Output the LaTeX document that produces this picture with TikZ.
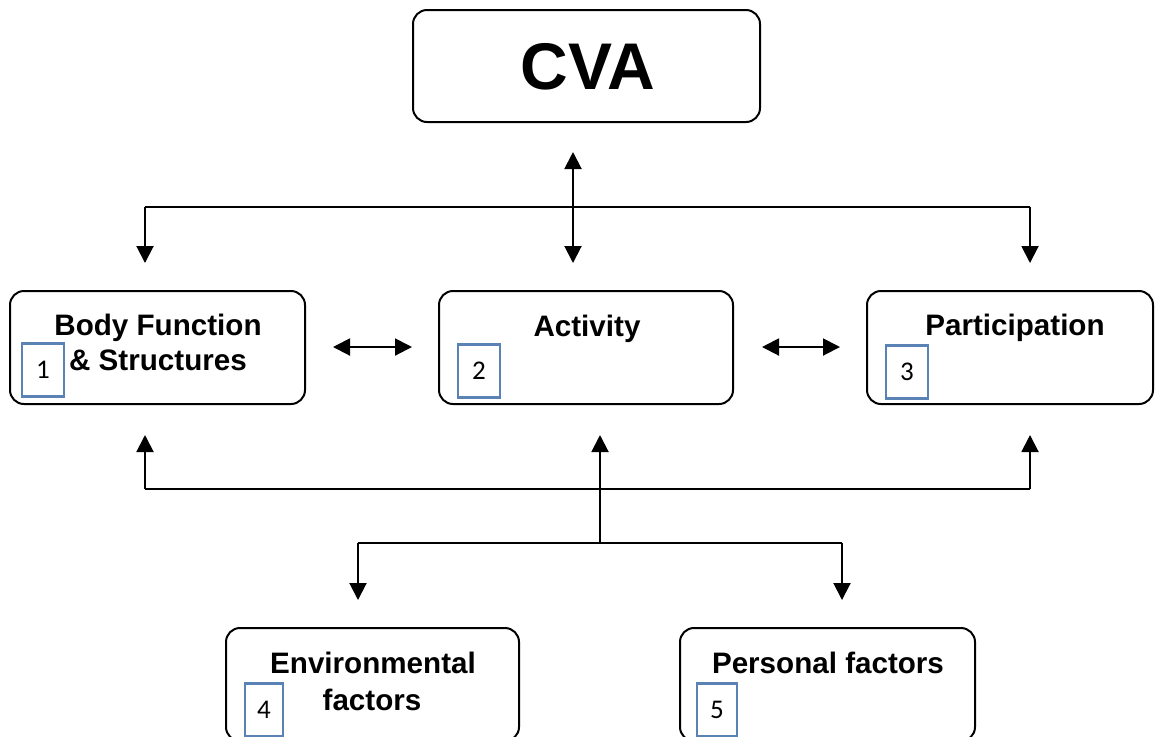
\documentclass[tikz,border=0pt]{standalone}
\usepackage{fontspec}
\setmainfont{Liberation Sans}
\newfontfamily\numfont{Carlito}
\usetikzlibrary{arrows.meta,calc}
\definecolor{numblue}{HTML}{5A82B4}
\begin{document}
\begin{tikzpicture}[x=0.5pt,y=-0.5pt,
 box/.style={draw, line width=1pt, rounded corners=7pt, inner sep=0pt, minimum height=56.5pt},
 lbl/.style={font=\bfseries\fontsize{14.8}{17.5}\selectfont, align=center, inner sep=0pt, anchor=base},
 numbox/.style={draw=numblue, line width=1.4pt, fill=white, inner sep=0pt, minimum width=21pt, minimum height=26.5pt, font=\numfont\fontsize{13.5}{15}\selectfont},
 conn/.style={line width=1pt},
 arr/.style={conn, -{Triangle[length=8.5pt,width=8.5pt]}},
 darr/.style={conn, {Triangle[length=8.5pt,width=8.5pt]}-{Triangle[length=8.5pt,width=8.5pt]}}]
\useasboundingbox (0,0) rectangle (1155,736);
\clip (0,0) rectangle (1155,736);
\fill[white] (0,0) rectangle (1155,736);
% boxes
\node[box, minimum width=173.5pt, minimum height=56pt] (cva) at (586.5,66) {};
\node[box, minimum width=147.5pt] (body) at (157.5,347.5) {};
\node[box, minimum width=147pt] (act) at (586,347.5) {};
\node[box, minimum width=143pt] (part) at (1010,347.5) {};
\node[box, minimum width=146.5pt] (env) at (372.5,684.5) {};
\node[box, minimum width=147.5pt] (pers) at (827.5,684.5) {};
% labels
\node[inner sep=0pt, anchor=base, font=\bfseries\fontsize{33}{36}\selectfont] (cvat) at (588,89) {CVA};
\node[lbl] (bodyt1) at (158,335) {Body Function};
\node[lbl] (bodyt2) at (158,370) {\& Structures};
\node[lbl] (actt) at (587,336) {Activity};
\node[lbl] (partt) at (1015,335) {Participation};
\node[lbl] (envt1) at (373,673) {Environmental};
\node[lbl] (envt2) at (372,710) {factors};
\node[lbl] (perst) at (828,673) {Personal factors};
% number boxes
\node[numbox] (n1) at (43,370) {1};
\node[numbox] (n2) at (479,371) {2};
\node[numbox] (n3) at (907,372) {3};
\node[numbox, minimum width=19pt] (n4) at (264,710) {4};
\node[numbox, minimum width=20pt] (n5) at (717,710) {5};
% connector points
\coordinate (cvaA) at (573,152);
\coordinate (actA) at (573,263);
\coordinate (tL) at (145,207);
\coordinate (tR) at (1030,207);
\coordinate (bodyA) at (145,263);
\coordinate (partA) at (1030,263);
\coordinate (h1a) at (333,347);
\coordinate (h1b) at (412,347);
\coordinate (h2a) at (762,347);
\coordinate (h2b) at (840,347);
\coordinate (bL) at (145,489);
\coordinate (bR) at (1030,489);
\coordinate (bodyB) at (145,435);
\coordinate (partB) at (1030,435);
\coordinate (actB) at (600,435);
\coordinate (mid) at (600,543);
\coordinate (mL) at (358,543);
\coordinate (mR) at (842,543);
\coordinate (envA) at (358,600);
\coordinate (persA) at (842,600);
% connectors
\draw[darr] (cvaA) -- (actA);
\draw[conn] (tL) -- (tR);
\draw[arr] (tL) -- (bodyA);
\draw[arr] (tR) -- (partA);
\draw[darr] (h1a) -- (h1b);
\draw[darr] (h2a) -- (h2b);
\draw[conn] (bL) -- (bR);
\draw[arr] (bL) -- (bodyB);
\draw[arr] (bR) -- (partB);
\draw[arr] (mid) -- (actB);
\draw[conn] (mL) -- (mR);
\draw[arr] (mL) -- (envA);
\draw[arr] (mR) -- (persA);
\end{tikzpicture}
\end{document}
